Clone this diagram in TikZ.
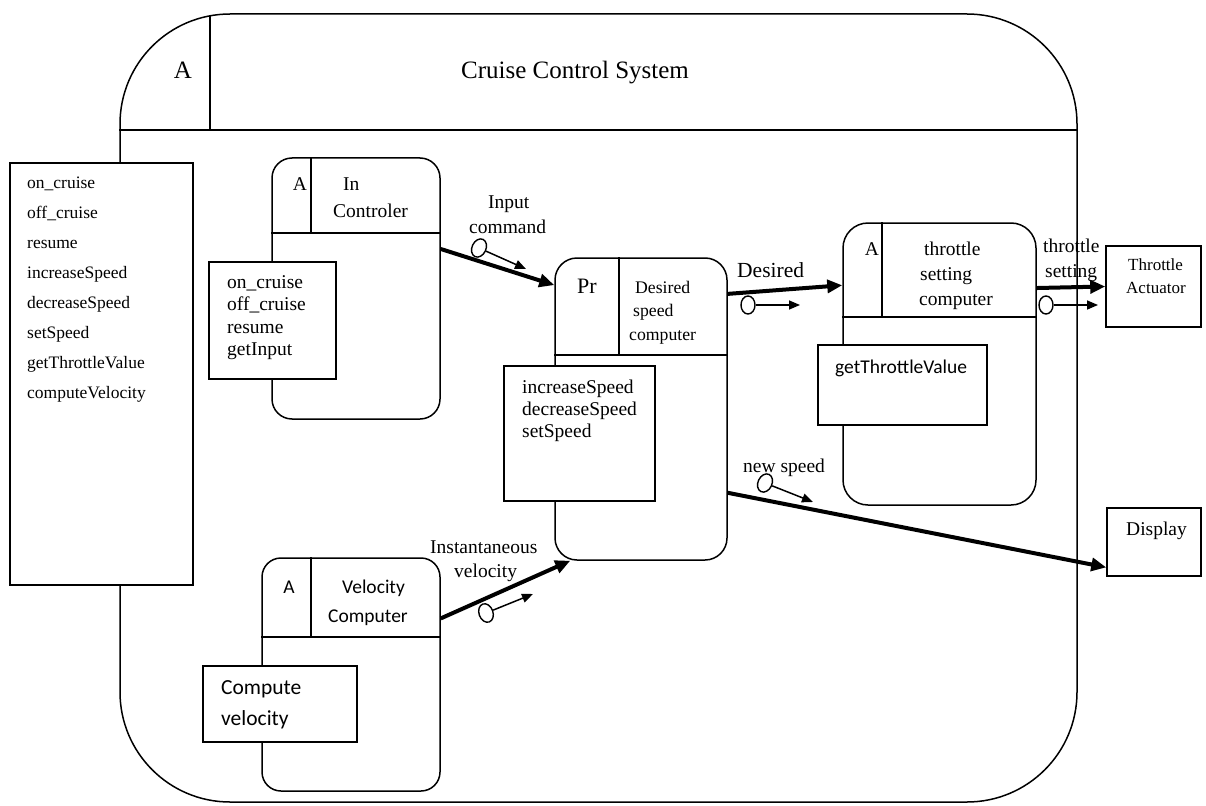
\documentclass[tikz,border=0pt]{standalone}
\usepackage{fontspec}
\setmainfont{Liberation Serif}
\newfontfamily\carlito{Carlito}
\usetikzlibrary{arrows.meta,shapes.geometric}

\begin{document}
\begin{tikzpicture}[x=1pt,y=-1pt,
  boxframe/.style={draw,line width=1.5pt,fill=white,inner sep=0pt,rectangle},
  procbox/.style={boxframe,rounded corners=#1},
  divider/.style={line width=1.5pt},
  lbl/.style={inner sep=0pt,anchor=base west,font=\fontsize{19.5}{22}\selectfont},
  lblc/.style={lbl,anchor=base},
  small/.style={lbl,font=\fontsize{17.5}{20}\selectfont},
  sans/.style={lbl,font=\carlito\fontsize{19.5}{22}\selectfont},
  flow/.style={line width=4pt,-{Triangle[length=15pt,width=13pt]}},
  token/.style={draw,ellipse,line width=1.4pt,fill=white,inner sep=0pt,
    minimum width=14pt,minimum height=19pt},
  tokarrow/.style={line width=1.5pt,-{Triangle[length=11pt,width=9pt]}}]

\useasboundingbox[fill=white] (0,0) rectangle (1206,805);

% system frame with its title bar
\node[procbox=110pt,minimum width=957pt,minimum height=788pt] (outer) at (598.5,408) {};
\coordinate (sysdiv) at (210,130);
\draw[divider] (outer.west |- sysdiv) -- (outer.east |- sysdiv);
\draw[divider] ([yshift=-2pt]sysdiv |- outer.north) -- (sysdiv);
\node[lblc,font=\fontsize{25}{28}\selectfont] (sysA) at (183,79) {A};
\node[lblc,font=\fontsize{25}{28}\selectfont] (systitle) at (575,79) {Cruise Control System};

% event list on the left
\node[boxframe,minimum width=183pt,minimum height=422pt] (events) at (101.5,374) {};
\foreach \t [count=\i] in {on\_cruise,off\_cruise,resume,increaseSpeed,decreaseSpeed,setSpeed,getThrottleValue,computeVelocity}
  \node[small] (ev\i) at (27,{188+30*(\i-1)}) {\t};

% In Controler
\node[procbox=20pt,minimum width=168pt,minimum height=261pt] (inctl) at (356,288.5) {};
\coordinate (icdiv) at (311,233);
\draw[divider] (inctl.west |- icdiv) -- (inctl.east |- icdiv);
\draw[divider] (icdiv |- inctl.north) -- (icdiv);
\node[lblc] (icA) at (300,190) {A};
\node[lbl] (icname1) at (343,190) {In};
\node[lbl] (icname2) at (333,217) {Controler};
\node[boxframe,minimum width=127pt,minimum height=117pt] (icops) at (272.5,320.5) {};
\foreach \t [count=\i] in {on\_cruise,off\_cruise,resume,getInput}
  \node[lbl] (icop\i) at (227,{288+22.5*(\i-1)}) {\t};

% Desired speed computer
\node[procbox=22pt,minimum width=172pt,minimum height=302pt] (dsc) at (641,409) {};
\coordinate (dsdiv) at (619,355);
\draw[divider] (dsc.west |- dsdiv) -- (dsc.east |- dsdiv);
\draw[divider] (dsdiv |- dsc.north) -- (dsdiv);
\node[lblc,font=\fontsize{22}{24}\selectfont] (dsPr) at (587,293) {Pr};
\node[small,font=\fontsize{17.7}{20}\selectfont] (dsname1) at (635,293) {Desired};
\node[small,font=\fontsize{17.7}{20}\selectfont] (dsname2) at (633,316) {speed};
\node[small,font=\fontsize{17.7}{20}\selectfont] (dsname3) at (629,340) {computer};
\node[boxframe,minimum width=151pt,minimum height=135pt] (dsops) at (579.5,433.5) {};
\foreach \t [count=\i] in {increaseSpeed,decreaseSpeed,setSpeed}
  \node[lbl] (dsop\i) at (522,{393+22*(\i-1)}) {\t};

% throttle setting computer
\node[procbox=25pt,minimum width=193pt,minimum height=282pt] (tsc) at (939.5,364) {};
\coordinate (tsdiv) at (882,317);
\draw[divider] (tsc.west |- tsdiv) -- (tsc.east |- tsdiv);
\draw[divider] (tsdiv |- tsc.north) -- (tsdiv);
\node[lblc] (tsA) at (872,255) {A};
\node[lbl] (tsname1) at (924,255) {throttle};
\node[lbl] (tsname2) at (920,280) {setting};
\node[lbl] (tsname3) at (919,305) {computer};
\node[boxframe,minimum width=169pt,minimum height=80pt] (tsops) at (902.5,385) {};
\node[sans] (tsop1) at (835,373) {getThrottleValue};

% Velocity Computer
\node[procbox=19pt,minimum width=178pt,minimum height=233pt] (vc) at (351,674.5) {};
\coordinate (vcdiv) at (311,637);
\draw[divider] (vc.west |- vcdiv) -- (vc.east |- vcdiv);
\draw[divider] (vcdiv |- vc.north) -- (vcdiv);
\node[sans,anchor=base] (vcA) at (289,593) {A};
\node[sans] (vcname1) at (342,593) {Velocity};
\node[sans] (vcname2) at (328,622) {Computer};
\node[boxframe,minimum width=154pt,minimum height=76pt] (vcops) at (280,704) {};
\node[sans,font=\carlito\fontsize{21.5}{24}\selectfont] (vcop1) at (221,694) {Compute};
\node[sans,font=\carlito\fontsize{21.5}{24}\selectfont] (vcop2) at (221,725) {velocity};

% external devices
\node[boxframe,minimum width=95pt,minimum height=81pt] (actuator) at (1153.5,286.5) {};
\node[small,font=\fontsize{17}{20}\selectfont] (act1) at (1128,270) {Throttle};
\node[small,font=\fontsize{17}{20}\selectfont] (act2) at (1126,293) {Actuator};
\node[boxframe,minimum width=94pt,minimum height=68pt] (display) at (1154,542) {};
\node[lbl] (disp1) at (1126,535) {Display};

% data flows
\draw[flow] (inctl.25.7) -- (dsc.125.2);
\draw[flow] (dsc.53.9) -- (tsc.141.4);
\draw[flow] (tsc.38.5) -- (actuator.west);
\draw[flow] (dsc.-44.7) -- (display.208);
\draw[flow] (vc.32.4) -- (dsc.245.3);

% flow labels
\node[lbl] (lin1) at (488,208) {Input};
\node[lbl] (lin2) at (469,233) {command};
\node[lbl,font=\fontsize{21.5}{24}\selectfont] (ldes) at (737,277) {Desired};
\node[lbl] (lthr1) at (1043,252) {throttle};
\node[lbl] (lthr2) at (1045,277) {setting};
\node[lbl] (lnew) at (743,472) {new speed};
\node[lbl] (lvel1) at (430,553) {Instantaneous};
\node[lbl] (lvel2) at (454,577) {velocity};

% data tokens
\node[token,rotate=-25] (tokin) at (479,248) {};
\coordinate (tokinend) at (526,269);
\draw[tokarrow] (tokin) -- (tokinend);
\node[token,minimum height=18pt] (tokdes) at (748,305) {};
\coordinate (tokdesend) at (800,305);
\draw[tokarrow] (tokdes) -- (tokdesend);
\node[token,minimum height=18pt] (tokthr) at (1046,305) {};
\coordinate (tokthrend) at (1098,305);
\draw[tokarrow] (tokthr) -- (tokthrend);
\node[token,rotate=-25] (toknew) at (765,483) {};
\coordinate (toknewend) at (813,502);
\draw[tokarrow] (toknew) -- (toknewend);
\node[token,rotate=20] (tokvel) at (486,613) {};
\coordinate (tokvelend) at (533,594);
\draw[tokarrow] (tokvel) -- (tokvelend);
\end{tikzpicture}
\end{document}
